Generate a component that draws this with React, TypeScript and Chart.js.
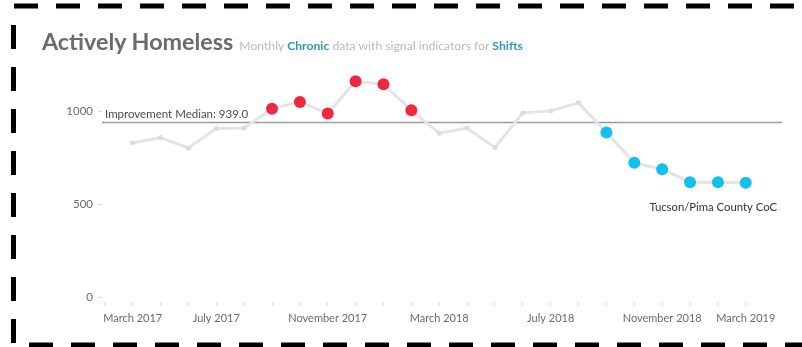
import React, { useEffect, useRef } from 'react';
import { Chart, registerables } from 'chart.js';

Chart.register(...registerables);

// ---- data ----
const tickLabels = [
  'March 2017', '', '', 'July 2017', '', '', '', 'November 2017', '', '', '',
  'March 2018', '', '', '', 'July 2018', '', '', '', 'November 2018', '', '', 'March 2019',
];
const values = [
  830, 859, 803, 907, 910, 1014, 1050, 988, 1161, 1145, 1005,
  882, 910, 805, 991, 1002, 1045, 886, 723, 689, 619, 619, 616,
];
// 'up' = above-median shift signal, 'down' = below-median shift signal
const signals = [
  'none', 'none', 'none', 'none', 'none', 'up', 'up', 'up', 'up', 'up', 'up',
  'none', 'none', 'none', 'none', 'none', 'none', 'down', 'down', 'down', 'down', 'down', 'down',
];
const yTicks = [0, 500, 1000];
const medianValue = 939.0;
const medianLabel = 'Improvement Median: 939.0';
const seriesLabel = 'Tucson/Pima County CoC';
const titleText = 'Actively Homeless';

const FONT = 'Lato, "DejaVu Sans", sans-serif';
const RED = '#f0283f';
const BLUE = '#12c0ee';
const LINE_GREY = '#e4e4e4';
const POINT_GREY = '#dcdcdc';

function pointColor(s: string) {
  if (s === 'up') return RED;
  if (s === 'down') return BLUE;
  return POINT_GREY;
}

const overlayPlugin = {
  id: 'overlay',
  beforeDatasetsDraw(chart: any) {
    const { ctx, chartArea, scales } = chart;
    const py = scales.y.getPixelForValue(medianValue);
    ctx.save();
    ctx.strokeStyle = '#9c9c9c';
    ctx.lineWidth = 1.5;
    ctx.beginPath();
    ctx.moveTo(chartArea.left, py);
    ctx.lineTo(chartArea.right, py);
    ctx.stroke();
    ctx.fillStyle = '#4a4a4a';
    ctx.font = '11.5px ' + FONT;
    ctx.textAlign = 'left';
    ctx.textBaseline = 'alphabetic';
    ctx.fillText(medianLabel, chartArea.left + 3, py - 5);
    ctx.restore();
  },
  afterDraw(chart: any) {
    const { ctx, chartArea, scales } = chart;
    const last = values.length - 1;
    const ly = scales.y.getPixelForValue(values[last]);
    ctx.save();
    ctx.fillStyle = '#333';
    ctx.font = '11.3px ' + FONT;
    ctx.textAlign = 'right';
    ctx.textBaseline = 'middle';
    ctx.fillText(seriesLabel, chartArea.right - 5, ly + 25);

    // dashed frame
    ctx.strokeStyle = '#000';
    ctx.lineWidth = 5;
    ctx.lineCap = 'butt';
    ctx.setLineDash([24, 18]);
    ctx.beginPath();
    ctx.moveTo(14, 6);
    ctx.lineTo(802, 6);
    ctx.stroke();
    ctx.beginPath();
    ctx.moveTo(13.5, 25);
    ctx.lineTo(13.5, 347);
    ctx.stroke();
    ctx.beginPath();
    ctx.moveTo(29, 345);
    ctx.lineTo(802, 345);
    ctx.stroke();
    ctx.restore();
  },
};

export default function App() {
  const ref = useRef<HTMLCanvasElement | null>(null);

  useEffect(() => {
    if (!ref.current) return;
    const chart = new Chart(ref.current, {
      type: 'line',
      data: {
        datasets: [
          {
            data: values.map((v, i) => ({ x: i, y: v })),
            borderColor: LINE_GREY,
            borderWidth: 3,
            tension: 0,
            pointRadius: (c: any) => (signals[c.dataIndex] === 'none' ? 2.5 : 6),
            pointHoverRadius: (c: any) => (signals[c.dataIndex] === 'none' ? 2.5 : 6),
            pointBackgroundColor: (c: any) => pointColor(signals[c.dataIndex]),
            pointBorderWidth: 0,
          },
        ],
      },
      options: {
        animation: false,
        responsive: false,
        devicePixelRatio: 1,
        layout: { padding: { left: 0, right: 20, top: 74, bottom: 0 } },
        plugins: { legend: { display: false }, tooltip: { enabled: false }, title: { display: false } },
        scales: {
          x: {
            type: 'linear',
            min: -1.1,
            max: 23.3,
            afterBuildTicks: (s: any) => {
              s.ticks = [-1, ...tickLabels.map((_, i) => i)].map((v) => ({ value: v }));
            },
            afterFit: (s: any) => {
              s.height = 45;
            },
            ticks: {
              autoSkip: false,
              maxRotation: 0,
              minRotation: 0,
              padding: 6,
              color: '#6a6a6a',
              font: { family: FONT, size: 11 },
              callback: (v: any) => tickLabels[v] ?? '',
            },
            grid: { drawOnChartArea: false, tickLength: 4, tickColor: '#dddddd', tickWidth: 1 },
            border: { display: false },
          },
          y: {
            type: 'linear',
            min: -24,
            max: 1200,
            afterBuildTicks: (s: any) => {
              s.ticks = yTicks.map((v) => ({ value: v }));
            },
            afterFit: (s: any) => {
              s.width = 102;
            },
            ticks: {
              padding: 6,
              color: '#6a6a6a',
              font: { family: FONT, size: 11.5 },
              callback: (v: any) => String(v),
            },
            grid: { drawOnChartArea: false, tickLength: 3, tickColor: '#cccccc', tickWidth: 1 },
            border: { display: false },
          },
        },
      },
      plugins: [overlayPlugin],
    } as any);
    return () => chart.destroy();
  }, []);

  return (
    <div style={{ position: 'fixed', left: 0, top: 0, width: 802, height: 347, background: '#fff', overflow: 'hidden' }}>
      <canvas ref={ref} width={802} height={347} style={{ position: 'absolute', left: 0, top: 0, width: 802, height: 347 }} />
      <div
        style={{
          position: 'absolute',
          left: 42,
          top: 30,
          whiteSpace: 'nowrap',
          fontFamily: FONT,
          lineHeight: '22px',
          color: '#6b6b6b',
        }}
      >
        <span style={{ fontSize: 23.3, fontWeight: 700 }}>{titleText}</span>
        <span style={{ fontSize: 12.2, color: '#bababa', marginLeft: 6 }}>
          Monthly <b style={{ color: '#3197b9' }}>Chronic</b> data with signal indicators for{' '}
          <b style={{ color: '#3197b9' }}>Shifts</b>
        </span>
      </div>
    </div>
  );
}
